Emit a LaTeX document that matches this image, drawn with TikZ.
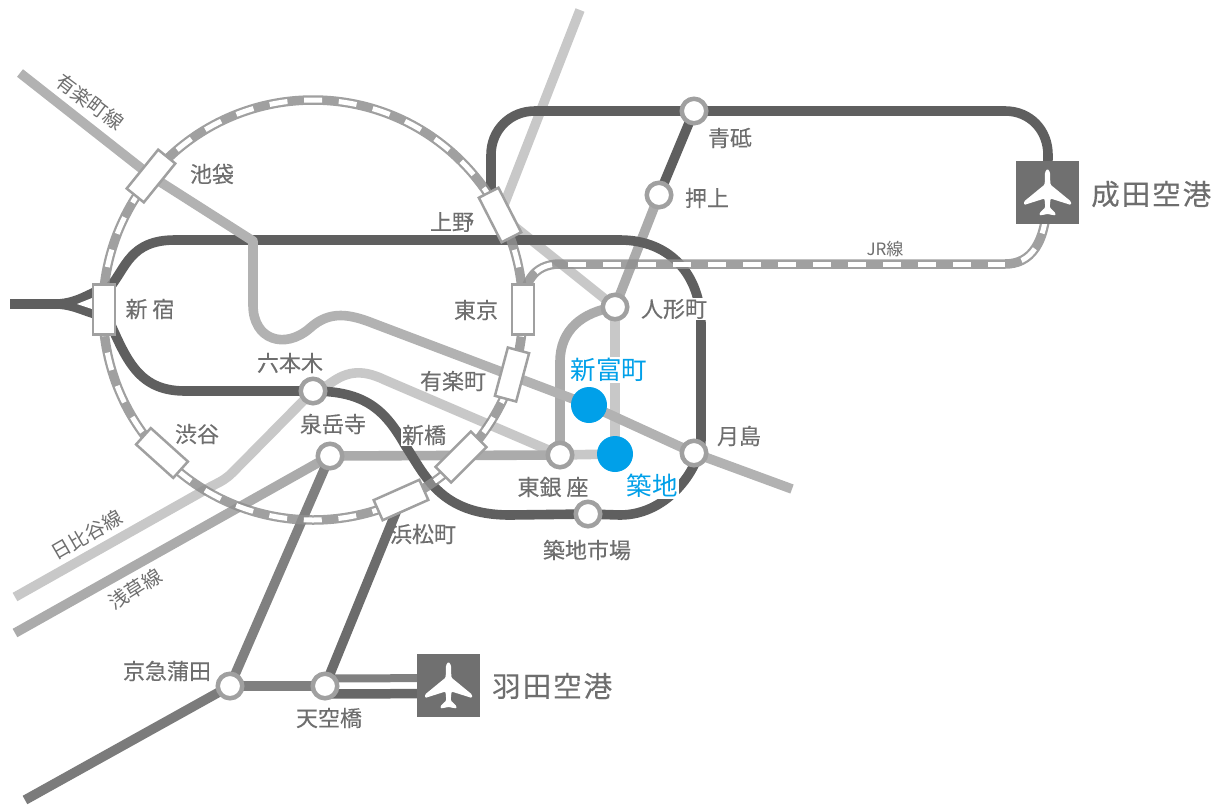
\documentclass[tikz,border=0pt]{standalone}
\usepackage{fontspec}
\setmainfont{Noto Sans CJK JP}
\newfontfamily\stfont[FakeBold=0.3]{Noto Sans CJK JP}
\usetikzlibrary{backgrounds}
\definecolor{lnDark}{HTML}{5F5F5F}
\definecolor{lnMid}{HTML}{808080}
\definecolor{lnAsa}{HTML}{ABABAB}
\definecolor{lnYur}{HTML}{B2B2B2}
\definecolor{lnHib}{HTML}{C8C8C8}
\definecolor{lnRing}{HTML}{8F8F8F}
\definecolor{stRing}{HTML}{A0A0A0}
\definecolor{txGray}{HTML}{6E6E6E}
\definecolor{apGray}{HTML}{707070}
\definecolor{tkBlue}{HTML}{00A0E9}
\tikzset{
  railline/.style={line width=9.6pt,line join=round},
  dark/.style={railline,draw=lnDark},
  mid/.style={railline,draw=lnMid},
  asakusa/.style={railline,draw=lnAsa},
  yuraku/.style={railline,draw=lnYur},
  hibiya/.style={railline,draw=lnHib},
  jrbase/.style={line width=9.5pt,draw=lnRing,draw opacity=0.85},
  jrdash/.style={line width=5pt,draw=white},
  rdstation/.style={circle,draw=stRing,fill=white,line width=4.5pt,minimum size=24.5pt,inner sep=0pt},
  boxstation/.style={rectangle,draw=stRing,fill=white,line width=2.5pt,minimum width=50pt,minimum height=22pt,inner sep=0pt},
  airport/.style={rectangle,fill=apGray,minimum size=63pt,inner sep=0pt},
  stlabel/.style={text=txGray,font=\stfont\fontsize{22}{24}\selectfont,inner sep=0pt},
  linelabel/.style={text=txGray,font=\fontsize{19.5}{21}\selectfont,inner sep=0pt},
  aplabel/.style={text=txGray,font=\stfont\fontsize{28.5}{30}\selectfont,inner sep=0pt},
  bluelabel/.style={text=tkBlue,fill=white,font=\fontsize{25.5}{27}\selectfont,inner sep=1.5pt},
  bluedot/.style={circle,fill=tkBlue,minimum size=36pt,inner sep=0pt},
  plane/.style={fill=white,rounded corners=1.2pt}
}
\newcommand{\planepath}{(0,-24) -- (2.6,-20) -- (2.8,-8) -- (23.5,9) -- (23.5,12.5) -- (3,6) -- (2.2,15) -- (8,20.5) -- (8,23) -- (0,21.5) -- (-8,23) -- (-8,20.5) -- (-2.2,15) -- (-3,6) -- (-23.5,12.5) -- (-23.5,9) -- (-2.8,-8) -- (-2.6,-20) -- cycle}
\begin{document}
\begin{tikzpicture}[x=1pt,y=-1pt]
\useasboundingbox (0,0) rectangle (1225,804);
% free ends
\coordinate (oedoW) at (10,304);
\coordinate (fork) at (60,304);
\coordinate (hibN) at (580,10);
\coordinate (hibSW) at (15,597);
\coordinate (asaSW) at (15,633);
\coordinate (yurNW) at (20,73);
\coordinate (yurSE) at (792,489);
\coordinate (keikyuSW) at (25,800);
\coordinate (center) at (313,310);
\coordinate (jrL) at (568,264);
\coordinate (jrR) at (1005,264);
% stations
\node[rdstation] (aoto) at (694,111) {};
\node[rdstation] (oshiage) at (659,195) {};
\node[rdstation] (ningyo) at (615,307) {};
\node[rdstation] (roppongi) at (313,391) {};
\node[rdstation] (sengakuji) at (330,456) {};
\node[rdstation] (higashiginza) at (560,455) {};
\node[rdstation] (tsukishima) at (694,453) {};
\node[rdstation] (shijo) at (588,514) {};
\node[rdstation] (kamata) at (230,686) {};
\node[rdstation] (tenku) at (325,686) {};
\node[boxstation,rotate=51] (ikebukuro) at (151,176) {};
\node[boxstation,rotate=90] (shinjuku) at (104,309.5) {};
\node[boxstation,rotate=-63] (ueno) at (500,215) {};
\node[boxstation,rotate=90] (tokyo) at (523,309.5) {};
\node[boxstation,rotate=75] (yurakucho) at (512,374.5) {};
\node[boxstation,rotate=45] (shinbashi) at (461,457) {};
\node[boxstation,rotate=24] (hamamatsu) at (401,500) {};
\node[boxstation,rotate=-42] (shibuya) at (162,453) {};
\node[airport] (narita) at (1047.5,192.5) {};
\node[airport] (haneda) at (448.5,685.5) {};
\node[bluedot] (tsukiji) at (615,454) {};
\node[bluedot] (shintomi) at (589,405) {};
% lines below the stations
\begin{scope}[on background layer]
\draw[hibiya] (hibN) -- (ueno.center) -- (ningyo.center) -- (tsukiji.center) -- (higashiginza.center)
  -- (385,380) .. controls (360,368) and (345,372) .. (328,385) -- (roppongi.center)
  -- (233,472) .. controls (226,479) and (222,481) .. (212,486) -- (hibSW);
\draw[asakusa] (asaSW) -- (sengakuji.center) -- (higashiginza.center) -- (560,362)
  .. controls (560,330) and (582,312) .. (ningyo.center) -- (oshiage.center);
\draw[dark] (oedoW) -- (fork);
\fill[lnDark] (60,299) .. controls (72,298) and (82,293) .. (92,288) -- (92,318) .. controls (82,315) and (72,310) .. (60,309) -- cycle;
\fill[white] (77,304) -- (92,298) -- (92,309) -- cycle;
\draw[dark] (shinjuku.center) -- (110,287) .. controls (126,268) and (130,240) .. (175,240)
  -- (620,240) .. controls (670,240) and (701,275) .. (701,325) -- (701,440)
  .. controls (701,465) and (670,515) .. (620,515) -- (shijo.center) -- (510,515)
  .. controls (440,515) and (425,475) .. (405,445) .. controls (385,410) and (365,391) .. (roppongi.center)
  -- (185,391) .. controls (135,391) and (125,355) .. (shinjuku.center);
\draw[yuraku] (yurNW) -- (ikebukuro.center) -- (253,241) -- (253,305)
  .. controls (253,340) and (285,350) .. (310,328)
  .. controls (330,310) and (350,314) .. (375,324) -- (shintomi.center) -- (tsukishima.center) -- (yurSE);
\draw[dark] ([xshift=-9pt,yshift=10pt]ueno.center) -- (491,155) .. controls (491,130) and (510,111) .. (535,111)
  -- (aoto.center) -- (1005,111) .. controls (1030,111) and (1048,130) .. (1048,155) -- (narita.center);
\draw[dark] (aoto.center) -- (oshiage.center);
\draw[mid] (sengakuji.center) -- (kamata.center) -- (tenku.center);
\draw[mid,line width=8pt] ([yshift=7.5pt]tenku.center) -- ([yshift=7.5pt]haneda.center);
\draw[dark,line width=9.5pt,draw=lnDark!95!white] ([yshift=-8pt]tenku.center) -- ([yshift=-8pt]haneda.center);
\draw[dark,draw=lnMid!85!lnDark] (kamata.center) -- (keikyuSW);
\draw[dark,draw=lnMid!40!lnDark] (hamamatsu.center) -- (tenku.center);
% ring
\draw[jrbase] (center) circle[radius=210pt];
\draw[jrdash,dash pattern=on 18pt off 16.72pt,dash phase=26.4pt] (center) circle[radius=210pt];
% JR to Narita
\draw[jrbase] (tokyo.center) .. controls (523,285) and (532,264) .. (560,264)
  -- (jrR) .. controls (1030,264) and (1047,245) .. (narita.center);
\draw[jrdash,dash pattern=on 18pt off 17pt,dash phase=27pt] (560,264) .. controls (532,264) and (523,285) .. (tokyo.center);
\draw[jrdash,dash pattern=on 18pt off 17pt] (jrL) -- (jrR);
\draw[jrdash,dash pattern=on 18pt off 17pt,dash phase=18pt] (jrR) .. controls (1030,264) and (1047,245) .. (narita.center);
\end{scope}
% plane icons
\fill[plane,shift={(narita.center)}] \planepath;
\fill[plane,shift={(haneda.center)}] \planepath;
% labels
\node[stlabel] (lbAoto) at (730,138) {青砥};
\node[stlabel] (lbOshiage) at (707,198) {押上};
\node[stlabel,fill=white,inner sep=1pt] (lbNingyo) at (674,309) {人形町};
\node[stlabel] (lbRoppongi) at (290,363) {六本木};
\node[stlabel] (lbSengakuji) at (333,424) {泉岳寺};
\node[stlabel] (lbHigashi) at (553,487) {東銀 座};
\node[stlabel] (lbTsuki) at (739,436) {月島};
\node[stlabel] (lbShijo) at (587,550) {築地市場};
\node[stlabel] (lbKamata) at (167,671) {京急蒲田};
\node[stlabel] (lbTenku) at (329,718) {天空橋};
\node[stlabel] (lbIke) at (212,174) {池袋};
\node[stlabel] (lbShin) at (150,309) {新 宿};
\node[stlabel] (lbUeno) at (452,222) {上野};
\node[stlabel] (lbTokyo) at (476,310) {東京};
\node[stlabel] (lbYura) at (453,381) {有楽町};
\node[stlabel,fill=white,inner sep=1pt] (lbShinb) at (424,435) {新橋};
\node[stlabel] (lbHama) at (423,534) {浜松町};
\node[stlabel] (lbShibu) at (197,434) {渋谷};
\node[linelabel,rotate=-37] (lbYuraL) at (90,102) {有楽町線};
\node[linelabel,rotate=30] (lbHibL) at (87,535) {日比谷線};
\node[linelabel,rotate=32] (lbAsaL) at (135,589) {浅草線};
\node[linelabel,font=\fontsize{17}{19}\selectfont] (lbJR) at (885,249) {JR線};
\node[aplabel,anchor=west] (lbNarita) at (1091,194) {\addfontfeatures{LetterSpace=7}成田空港};
\node[aplabel,anchor=west] (lbHaneda) at (492,686) {\addfontfeatures{LetterSpace=7}羽田空港};
\node[bluelabel] (lbShintomi) at (609,370) {新富町};
\node[bluelabel] (lbTsukiji) at (652,486) {築地};
\end{tikzpicture}
\end{document}
